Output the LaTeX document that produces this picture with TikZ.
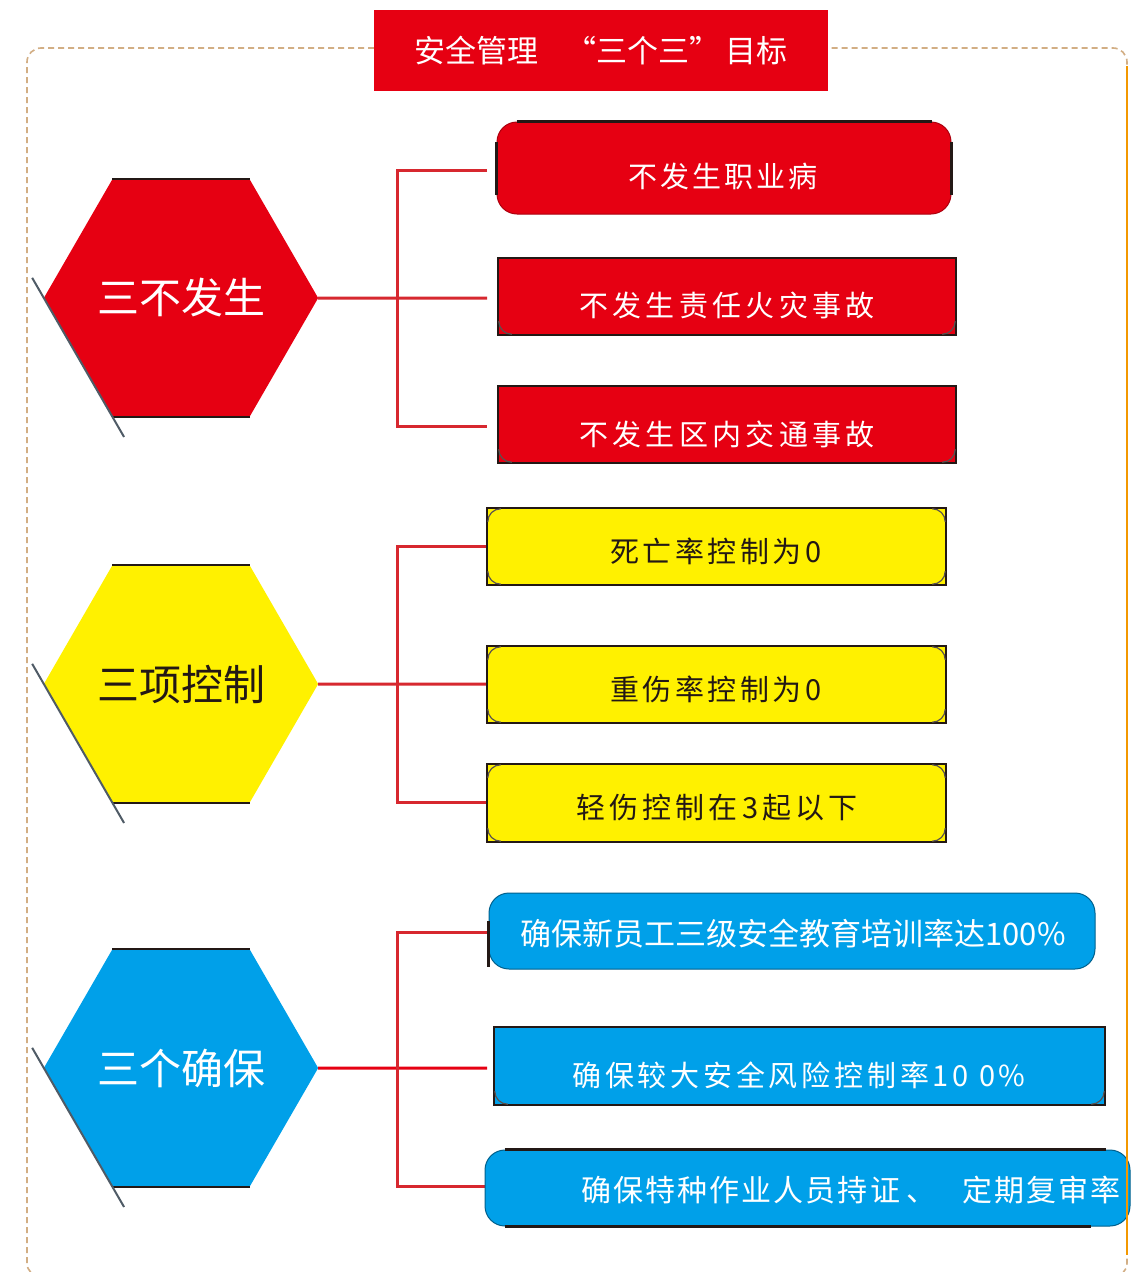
\documentclass[tikz,border=0pt]{standalone}
\usepackage{fontspec}
\setmainfont{Noto Sans CJK SC}
\usetikzlibrary{shapes.geometric,calc}
\definecolor{cred}{HTML}{E60012}
\definecolor{cyel}{HTML}{FFF100}
\definecolor{cblue}{HTML}{00A0E9}
\definecolor{cblk}{HTML}{231815}
\definecolor{cline}{HTML}{D7282F}
\definecolor{cframe}{HTML}{D2AE84}
\definecolor{corange}{HTML}{F39800}
\definecolor{cshadow}{HTML}{4F5B66}
\newcommand\mybotarcs[1]{%
  \draw[cornerarc] ([xshift=2pt,yshift=15pt]#1.south west) arc[start angle=180,end angle=270,radius=13pt];
  \draw[cornerarc] ([xshift=-2pt,yshift=15pt]#1.south east) arc[start angle=0,end angle=-90,radius=13pt];}
\newcommand\mytoparcs[1]{%
  \draw[cornerarc] ([xshift=2pt,yshift=-15pt]#1.north west) arc[start angle=180,end angle=90,radius=13pt];
  \draw[cornerarc] ([xshift=-2pt,yshift=-15pt]#1.north east) arc[start angle=0,end angle=90,radius=13pt];}
\tikzset{
  frame/.style={draw=cframe, line width=1.6pt, dash pattern=on 6pt off 4pt},
  conn/.style={draw=cline, line width=3pt},
  connb/.style={draw=cred, line width=3pt},
  hexa/.style={regular polygon, regular polygon sides=6, minimum size=268pt, inner sep=0pt, outer sep=0pt, font=\fontsize{42}{48}\selectfont},
  hexedge/.style={draw=cblk, line width=2pt},
  hexshadow/.style={draw=cshadow, line width=2pt},
  sqbox/.style={draw=cblk, line width=2.5pt, inner sep=0pt},
  rbox/.style={rounded corners=20pt, inner sep=0pt, line width=1pt},
  cornerarc/.style={draw=cblk!75, line width=1.2pt},
  blk/.style={draw=cblk, line width=2.5pt},
  boxtext/.style={inner sep=0pt, font=\fontsize{29}{34}\selectfont},
}
\begin{document}
\begin{tikzpicture}[x=1pt,y=-1pt]
\useasboundingbox (0,0) rectangle (1137,1272);
\clip (0,0) rectangle (1137,1272);
\fill[white] (0,0) rectangle (1137,1272);

% frame
\draw[frame, rounded corners=14pt] (374,48) -- (27,48) -- (27,1277) -- (1127,1277) -- (1127,48) -- (828,48);
\draw[corange, line width=2pt] (1127,66) -- (1127,1255);

% title
\node[fill=cred, text=white, minimum width=454pt, minimum height=81pt, inner sep=0pt,
      font=\fontsize{31}{36}\selectfont] (title) at (601,50.5)
      {\raisebox{-2pt}{安全管理\hspace{28pt}“三个三”\hspace{5pt}目标}};

% connector coordinates
\coordinate (v1) at (397,298);
\coordinate (e11) at (487,170);
\coordinate (e12) at (487,298);
\coordinate (e13) at (487,426);
\coordinate (v2) at (397,684);
\coordinate (e21) at (487,546);
\coordinate (e22) at (487,684);
\coordinate (e23) at (487,802);
\coordinate (v3) at (397,1068);
\coordinate (e31) at (487,932);
\coordinate (e32) at (487,1068);
\coordinate (e33) at (487,1186);

% hexagons
\node[hexa, fill=cred, text=white] (h1) at (181,298) {\raisebox{-3pt}{三不发生}};
\node[hexa, fill=cyel, text=cblk] (h2) at (181,684) {\raisebox{-3pt}{三项控制}};
\node[hexa, fill=cblue, text=white] (h3) at (181,1068) {\raisebox{-3pt}{三个确保}};
\foreach \h in {h1,h2,h3}{
  \draw[hexedge] (\h.120) -- (\h.60);
  \draw[hexedge] (\h.240) -- (\h.300);
  \draw[hexshadow] ($(\h.180)!-0.17!(\h.240)$) -- ($(\h.180)!1.17!(\h.240)$);
}

% connectors
\draw[conn] (h1.east) -- (e12);
\draw[conn] (e11) -| (v1) |- (e13);
\draw[conn] (h2.east) -- (e22);
\draw[conn] (e21) -| (v2) |- (e23);
\draw[connb] (h3.east) -- (e32);
\draw[conn] (e31) -| (v3) |- (e33);

% red boxes
\node[rbox, fill=cred, draw=cred!75!black, minimum width=454pt, minimum height=92pt] (r1) at (724,168) {};
\draw[blk] ([xshift=20pt]r1.north west) -- ([xshift=-20pt]r1.north east);
\draw[blk] ([yshift=-20pt]r1.north west) -- ([yshift=20pt]r1.south west);
\draw[blk] ([yshift=-20pt]r1.north east) -- ([yshift=20pt]r1.south east);
\node[sqbox, fill=cred, minimum width=458pt, minimum height=77pt] (r2) at (727,296.5) {};
\node[sqbox, fill=cred, minimum width=458pt, minimum height=77pt] (r3) at (727,424.5) {};
\mybotarcs{r2}
\mybotarcs{r3}
\node[boxtext, text=white] (r1t) at (723,176) {\addfontfeature{LetterSpace=11}不发生职业病};
\node[boxtext, text=white] (r2t) at (727,305) {\addfontfeature{LetterSpace=15}不发生责任火灾事故};
\node[boxtext, text=white] (r3t) at (727,434) {\addfontfeature{LetterSpace=15}不发生区内交通事故};

% yellow boxes
\node[sqbox, fill=cyel, minimum width=459pt, minimum height=77pt] (y1) at (716.5,546.5) {};
\node[sqbox, fill=cyel, minimum width=459pt, minimum height=77pt] (y2) at (716.5,684.5) {};
\node[sqbox, fill=cyel, minimum width=459pt, minimum height=78pt] (y3) at (716.5,803) {};
\foreach \b in {y1,y2,y3}{\mybotarcs{\b}\mytoparcs{\b}}
\node[boxtext, text=cblk] (y1t) at (716,551) {\addfontfeature{LetterSpace=12}死亡率控制为0};
\node[boxtext, text=cblk] (y2t) at (716,689) {\addfontfeature{LetterSpace=12}重伤率控制为0};
\node[boxtext, text=cblk] (y3t) at (717,808) {\addfontfeature{LetterSpace=14}轻伤控制在3起以下};

% blue boxes
\node[rbox, fill=cblue, draw=cblue!60!black, minimum width=606pt, minimum height=76pt] (b1) at (792,931) {};
\draw[blk] ([yshift=-28pt]b1.north west) -- ([yshift=3pt]b1.south west);
\node[sqbox, fill=cblue, minimum width=611pt, minimum height=78pt] (b2) at (799.5,1066) {};
\mybotarcs{b2}
\node[rbox, fill=cblue, draw=cblue!60!black, minimum width=645pt, minimum height=76pt] (b3) at (807.5,1188) {};
\draw[blk] ([xshift=20pt]b3.north west) -- ([xshift=-25pt]b3.north east);
\draw[blk] ([xshift=20pt]b3.south west) -- ([xshift=-40pt]b3.south east);
\node[boxtext, text=white, font=\fontsize{31}{36}\selectfont] (b1t) at (793,934) {确保新员工三级安全教育培训率达100\%};
\node[boxtext, text=white] (b2t) at (799,1075) {\addfontfeature{LetterSpace=13}确保较大安全风险控制率10 0\%};
\node[boxtext, text=white, anchor=west, font=\fontsize{30}{34}\selectfont] (b3t) at (581,1190)
  {\addfontfeature{LetterSpace=7}确保特种作业人员持证\hspace{6pt}、\hspace{26pt}定期复审率};
\draw[corange, line width=2pt] (1127,1150) -- (1127,1226);
\end{tikzpicture}
\end{document}
